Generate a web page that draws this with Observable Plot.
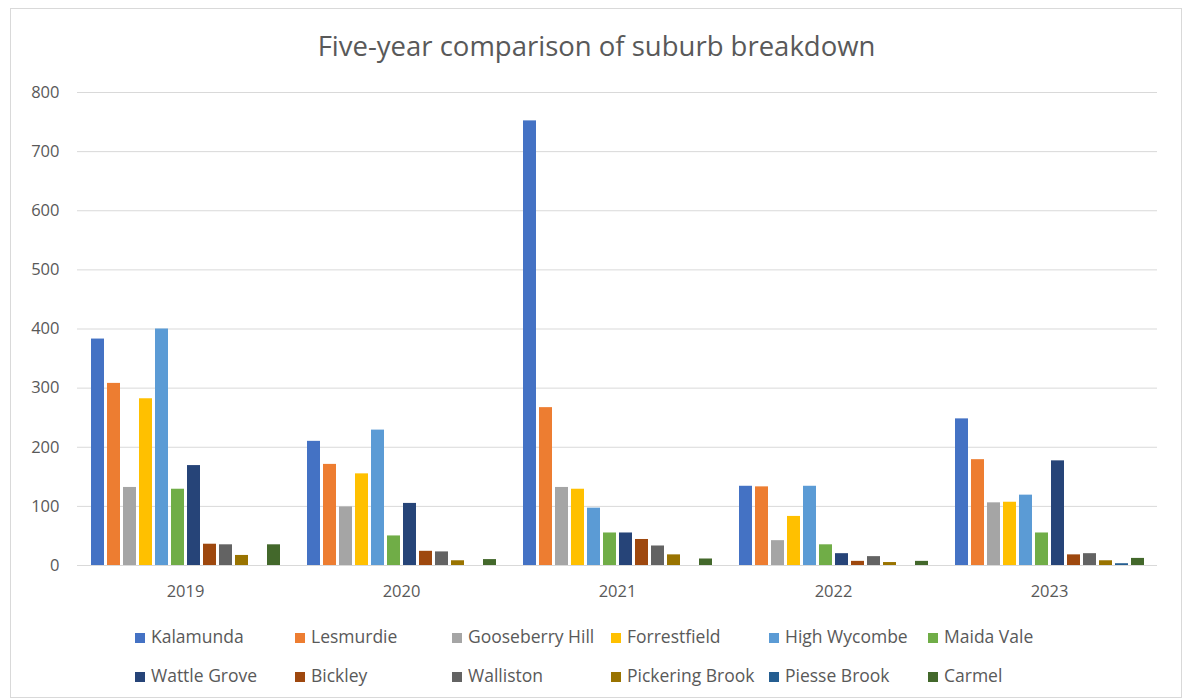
<!DOCTYPE html>
<html>
<head>
<meta charset="utf-8">
<script src="https://cdn.jsdelivr.net/npm/d3@7"></script>
<script src="https://cdn.jsdelivr.net/npm/@observablehq/plot@0.6"></script>
<style>
  body { margin: 0; background: #fff; font-family: "Open Sans", "Noto Sans", sans-serif; }
  #frame { position: absolute; left: 10px; top: 8px; width: 1172px; height: 690px; border: 1px solid #d9d9d9; box-sizing: border-box; }
  #title { position: absolute; left: 0; top: 27px; width: 1193px; text-align: center; font-size: 27.5px; color: #595959; line-height: 38px; }
  #chart { position: absolute; left: 0; top: 70px; }
  #legend { position: absolute; left: 0; top: 0; width: 1183px; height: 700px; pointer-events: none; }
  .item { position: absolute; font-size: 17.5px; color: #595959; white-space: nowrap; line-height: 20px; }
  .sw { display: inline-block; width: 10px; height: 10px; margin-right: 6px; vertical-align: 0px; }
</style>
</head>
<body>
<div id="frame"></div>
<div id="title">Five-year comparison of suburb breakdown</div>
<div id="chart"></div>
<div id="legend"></div>
<script>
const years = ["2019", "2020", "2021", "2022", "2023"];
const suburbs = ["Kalamunda", "Lesmurdie", "Gooseberry Hill", "Forrestfield", "High Wycombe", "Maida Vale",
  "Wattle Grove", "Bickley", "Walliston", "Pickering Brook", "Piesse Brook", "Carmel"];
const colors = ["#4472C4", "#ED7D31", "#A5A5A5", "#FFC000", "#5B9BD5", "#70AD47",
  "#264478", "#9E480E", "#636363", "#997300", "#255E91", "#43682B"];
const v2019 = [383, 308, 132, 282, 400, 129, 169, 36, 35, 17, 0, 35];
const v2020 = [210, 171, 99, 155, 229, 50, 105, 24, 23, 8, 0, 10];
const v2021 = [752, 267, 132, 129, 97, 55, 55, 44, 33, 18, 0, 11];
const v2022 = [134, 133, 42, 83, 134, 35, 20, 7, 15, 5, 0, 7];
const v2023 = [248, 179, 106, 107, 119, 55, 177, 18, 20, 8, 3, 12];
const yTicks = [0, 100, 200, 300, 400, 500, 600, 700, 800];

const byYear = [v2019, v2020, v2021, v2022, v2023];
const data = [];
years.forEach((yr, i) => suburbs.forEach((s, j) => data.push({year: yr, suburb: s, value: byYear[i][j]})));

const plot = Plot.plot({
  width: 1183,
  height: 535,
  marginLeft: 75,
  marginRight: 25,
  marginTop: 22,
  marginBottom: 40,
  style: {fontFamily: "'Open Sans', 'Noto Sans', sans-serif", fontSize: "16.5px", color: "#595959", background: "transparent"},
  fx: {domain: years, padding: 0, label: null, axis: "bottom", tickSize: 0, tickPadding: 20},
  x: {domain: suburbs, paddingInner: 0.21, paddingOuter: 0.85, axis: null},
  y: {domain: [0, 800], ticks: yTicks, tickSize: 0, tickPadding: 18, label: null},
  color: {domain: suburbs, range: colors},
  marks: [
    Plot.ruleY(yTicks, {stroke: "#d9d9d9", strokeWidth: 1, strokeOpacity: 1}),
    Plot.barY(data, {fx: "year", x: "suburb", y: "value", fill: "suburb"}),
    Plot.axisY({ticks: yTicks, tickSize: 0, tickPadding: 18, label: null, fontSize: 16.5})
  ]
});
document.getElementById("chart").appendChild(plot);

const legend = document.getElementById("legend");
const colX = [135, 295, 452, 611, 769, 928];
const rowY = [626, 665];
suburbs.forEach((s, i) => {
  const d = document.createElement("div");
  d.className = "item";
  d.style.left = colX[i % 6] + "px";
  d.style.top = rowY[Math.floor(i / 6)] + "px";
  d.innerHTML = `<span class="sw" style="background:${colors[i]}"></span>${s}`;
  legend.appendChild(d);
});
</script>
</body>
</html>
